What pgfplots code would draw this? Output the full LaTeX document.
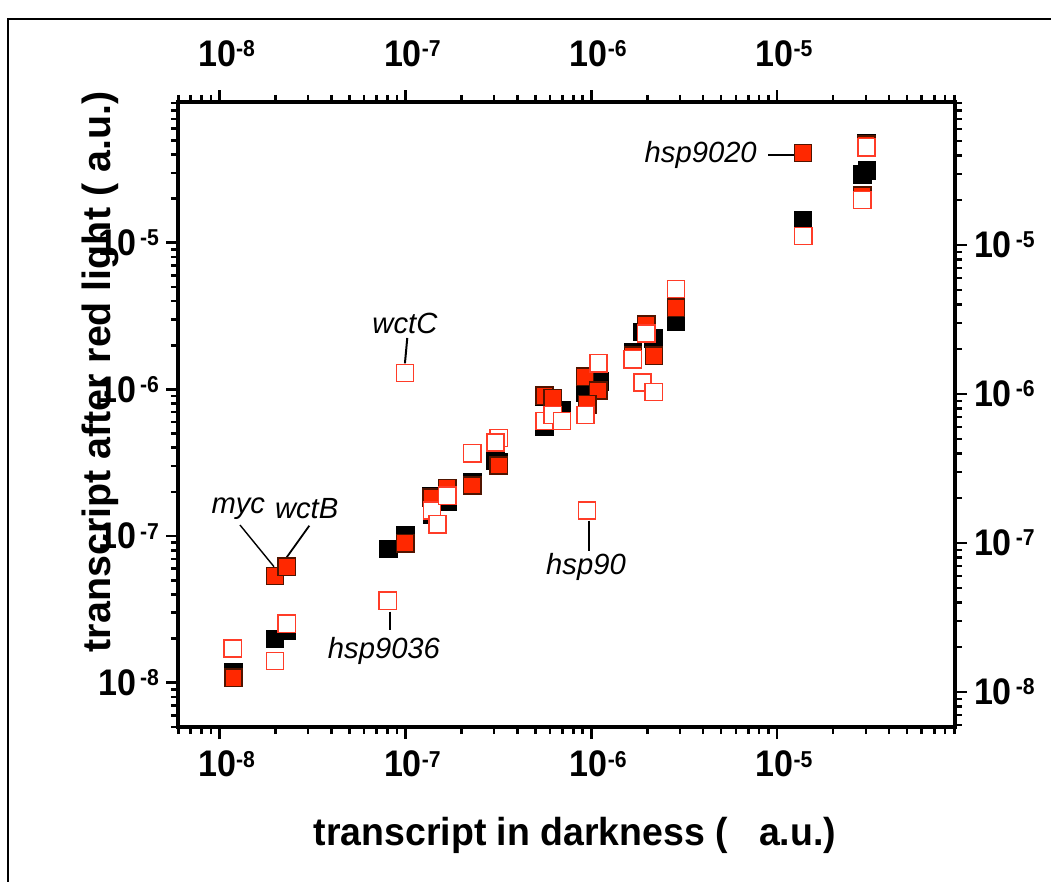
\documentclass[border=0pt]{standalone}
\usepackage{pgfplots}
\pgfplotsset{compat=1.18}
\usepackage{fontspec}
\setmainfont{Liberation Sans}
\newfontfamily\tickfont[FakeStretch=0.92]{Liberation Sans}
\newfontfamily\labfont[FakeStretch=0.96]{Liberation Sans}
\definecolor{rfill}{RGB}{255,40,0}
\definecolor{redge}{RGB}{80,20,0}
\definecolor{oedge}{RGB}{255,60,40}
\newcommand{\tl}{\tickfont\fontsize{18.5}{21}\selectfont\bfseries}
\newcommand{\sx}[1]{\raisebox{4.9pt}{\fontsize{11.5}{13}\selectfont #1}}
\newcommand{\an}{\fontsize{14.6}{17}\selectfont\itshape}
\begin{document}
\begin{tikzpicture}
\useasboundingbox (-89pt,-77.5pt) rectangle (436.5pt,363.5pt);
\draw[line width=1pt] (-85pt,-90pt) -- (-85pt,354pt) -- (450pt,354pt);
\begin{axis}[
  at={(0,0)}, anchor=south west,
  scale only axis, width=388.5pt, height=312.5pt,
  xmode=log, ymode=log,
  xmin=5.98e-9, xmax=9.05e-5,
  ymin=4.99e-9, ymax=9.12e-5,
  axis line style={line width=1.75pt},
  tick align=outside, major tick length=6pt, minor tick length=3.5pt,
  every tick/.append style={line width=1.3pt, black},
  xtick={1e-8,1e-7,1e-6,1e-5},
  xticklabels={10\sx{-8},10\sx{-7},10\sx{-6},10\sx{-5}},
  minor xtick={6e-9,7e-9,8e-9,9e-9,2e-8,3e-8,4e-8,5e-8,6e-8,7e-8,8e-8,9e-8,2e-7,3e-7,4e-7,5e-7,6e-7,7e-7,8e-7,9e-7,2e-6,3e-6,4e-6,5e-6,6e-6,7e-6,8e-6,9e-6,2e-5,3e-5,4e-5,5e-5,6e-5,7e-5,8e-5,9e-5},
  ytick={1e-8,1e-7,1e-6,1e-5},
  yticklabels={10\hspace{2pt}\sx{-8},10\hspace{2pt}\sx{-7},10\hspace{2pt}\sx{-6},10\hspace{2pt}\sx{-5}},
  minor ytick={5e-9,6e-9,7e-9,8e-9,9e-9,2e-8,3e-8,4e-8,5e-8,6e-8,7e-8,8e-8,9e-8,2e-7,3e-7,4e-7,5e-7,6e-7,7e-7,8e-7,9e-7,2e-6,3e-6,4e-6,5e-6,6e-6,7e-6,8e-6,9e-6,2e-5,3e-5,4e-5,5e-5,6e-5,7e-5,8e-5,9e-5},
  ticklabel style={font=\tl},
  xticklabel style={xshift=3.5pt, yshift=-2.5pt},
  clip=false,
  xtick pos=left, ytick pos=left,
  xlabel={transcript in darkness (\ \ \ a.u.)},
  ylabel={transcript after red light ( a.u.)},
  xlabel style={font=\labfont\fontsize{19.5}{23}\selectfont\bfseries, at={(axis description cs:0.511,-0.1728)}, anchor=center},
  ylabel style={font=\fontsize{19.7}{23}\selectfont\bfseries, at={(axis description cs:-0.1004,0.568)}, anchor=center},
]
\addplot[only marks, mark=square*, mark size=4.3pt, mark options={fill=black, draw=black, line width=0.7pt}] coordinates {
(1.189e-8,1.185e-8) (1.99e-8,1.99e-8) (2.30e-8,2.25e-8) (8.11e-8,8.17e-8)
(1.0e-7,1.006e-7) (1.383e-7,1.857e-7) (1.39e-7,1.40e-7) (1.68e-7,1.707e-7)
(2.29e-7,2.34e-7) (3.16e-7,3.18e-7) (3.05e-7,3.27e-7) (5.62e-7,8.96e-7)
(5.62e-7,5.60e-7) (6.96e-7,7.16e-7) (9.28e-7,1.221e-6) (9.28e-7,9.45e-7)
(1.11e-6,1.135e-6) (1.888e-6,2.47e-6) (2.16e-6,2.22e-6) (1.675e-6,1.778e-6)
(2.86e-6,2.89e-6) (1.38e-5,1.419e-5) (3.05e-5,3.11e-5) (2.87e-5,2.91e-5)
(3.02e-5,4.78e-5)
};
\addplot[only marks, mark=square*, mark size=4.3pt, mark options={fill=rfill, draw=redge, line width=0.7pt}] coordinates {
(1.189e-8,1.083e-8) (1.99e-8,5.35e-8) (2.30e-8,6.18e-8) (1.0e-7,8.92e-8)
(1.383e-7,1.827e-7) (1.68e-7,2.12e-7) (2.29e-7,2.21e-7) (3.18e-7,3.03e-7)
(5.60e-7,9.06e-7) (6.21e-7,8.74e-7) (9.25e-7,1.221e-6) (1.092e-6,9.84e-7)
(9.51e-7,7.93e-7) (1.977e-6,2.77e-6) (2.17e-6,1.70e-6) (1.675e-6,1.70e-6)
(2.86e-6,3.61e-6) (1.38e-5,4.09e-5) (3.02e-5,4.66e-5) (2.87e-5,2.10e-5)
};
\addplot[only marks, mark=square*, mark size=4.3pt, mark options={fill=white, draw=oedge, line width=0.8pt}] coordinates {
(1.178e-8,1.708e-8) (1.99e-8,1.408e-8) (2.30e-8,2.52e-8) (8.04e-8,3.62e-8)
(9.96e-8,1.294e-6) (1.39e-7,1.49e-7) (1.68e-7,1.885e-7) (1.489e-7,1.205e-7)
(2.29e-7,3.68e-7) (3.18e-7,4.66e-7) (3.05e-7,4.35e-7) (5.59e-7,6.09e-7)
(6.21e-7,6.69e-7) (6.96e-7,6.09e-7) (9.30e-7,6.69e-7) (9.48e-7,1.49e-7)
(1.096e-6,1.509e-6) (1.977e-6,2.41e-6) (1.675e-6,1.607e-6) (1.888e-6,1.114e-6)
(2.17e-6,9.60e-7) (2.86e-6,4.84e-6) (1.38e-5,1.111e-5) (3.02e-5,4.49e-5)
(2.87e-5,1.955e-5)
};
\node[font=\an] at (rel axis cs:0.2921,0.6464) {wctC};
\draw[line width=1pt] (rel axis cs:0.2951,0.6224) -- (rel axis cs:0.2921,0.5819);
\node[font=\an] at (rel axis cs:0.6728,0.9152) {hsp9020};
\draw[line width=1pt] (rel axis cs:0.7597,0.9152) -- (rel axis cs:0.7941,0.9152);
\node[font=\an] at (rel axis cs:0.0776,0.3499) {myc};
\draw[line width=0.7pt] (rel axis cs:0.0798,0.3232) -- (rel axis cs:0.1236,0.2565);
\node[font=\an] at (rel axis cs:0.1656,0.3499) {wctB};
\draw[line width=0.9pt] (rel axis cs:0.1690,0.3221) -- (rel axis cs:0.1390,0.2699);
\node[font=\an] at (rel axis cs:0.2651,0.1221) {hsp9036};
\draw[line width=1pt] (rel axis cs:0.2728,0.1845) -- (rel axis cs:0.2728,0.1552);
\node[font=\an] at (rel axis cs:0.5251,0.2565) {hsp90};
\draw[line width=1pt] (rel axis cs:0.5290,0.3301) -- (rel axis cs:0.5290,0.2821);
\end{axis}
\begin{axis}[
  at={(0,0)}, anchor=south west,
  scale only axis, width=388.5pt, height=312.5pt,
  xmode=log, ymode=log,
  xmin=5.98e-9, xmax=9.05e-5,
  ymin=5.82e-9, ymax=9.12e-5,
  axis line style={line width=1.75pt},
  tick align=outside, major tick length=6pt, minor tick length=3.5pt,
  every tick/.append style={line width=1.3pt, black},
  xtick={1e-8,1e-7,1e-6,1e-5},
  xticklabels={10\sx{-8},10\sx{-7},10\sx{-6},10\sx{-5}},
  minor xtick={6e-9,7e-9,8e-9,9e-9,2e-8,3e-8,4e-8,5e-8,6e-8,7e-8,8e-8,9e-8,2e-7,3e-7,4e-7,5e-7,6e-7,7e-7,8e-7,9e-7,2e-6,3e-6,4e-6,5e-6,6e-6,7e-6,8e-6,9e-6,2e-5,3e-5,4e-5,5e-5,6e-5,7e-5,8e-5,9e-5},
  ytick={1e-8,1e-7,1e-6,1e-5},
  yticklabels={10\hspace{2pt}\sx{-8},10\hspace{2pt}\sx{-7},10\hspace{2pt}\sx{-6},10\hspace{2pt}\sx{-5}},
  minor ytick={6e-9,7e-9,8e-9,9e-9,2e-8,3e-8,4e-8,5e-8,6e-8,7e-8,8e-8,9e-8,2e-7,3e-7,4e-7,5e-7,6e-7,7e-7,8e-7,9e-7,2e-6,3e-6,4e-6,5e-6,6e-6,7e-6,8e-6,9e-6,2e-5,3e-5,4e-5,5e-5,6e-5,7e-5,8e-5,9e-5},
  ticklabel style={font=\tl},
  xticklabel style={xshift=3.5pt, yshift=8pt},
  xtick pos=right, ytick pos=right,
  xticklabel pos=right, yticklabel pos=right,
]
\addplot[draw=none, mark=none] coordinates {(1e-7,1e-7)};
\end{axis}
\end{tikzpicture}
\end{document}
